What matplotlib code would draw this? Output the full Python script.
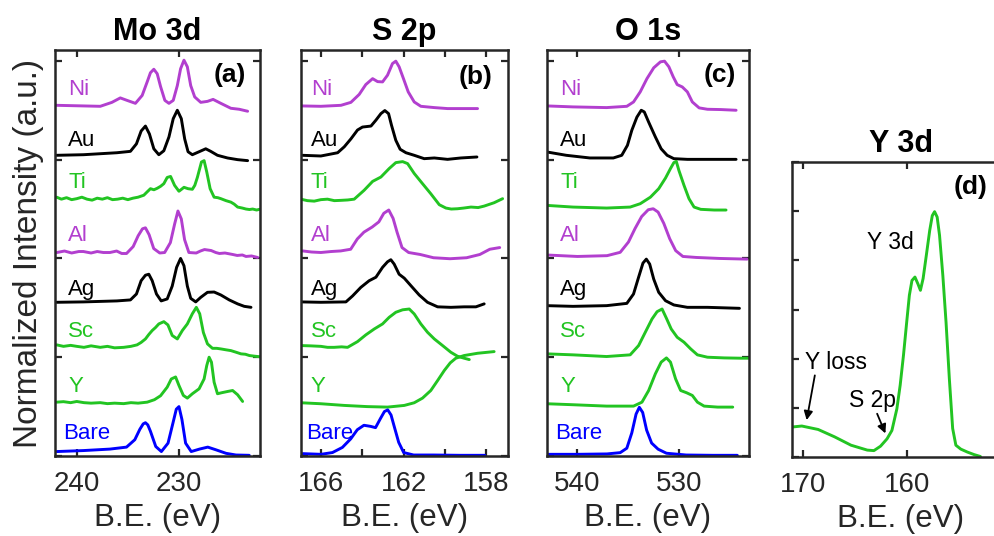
import matplotlib
matplotlib.use("Agg")
import matplotlib.pyplot as plt
from matplotlib.transforms import blended_transform_factory

plt.rcParams['font.family'] = ['Liberation Sans', 'DejaVu Sans']

# ---------------- data ----------------
samples = ["Ni", "Au", "Ti", "Al", "Ag", "Sc", "Y", "Bare"]
PURPLE, BLACK, GREEN, BLUE = "#B23FCF", "#000000", "#22C422", "#0000FF"
sample_colors = [PURPLE, BLACK, GREEN, PURPLE, BLACK, GREEN, GREEN, BLUE]
label_y = [3.71, 3.19, 2.77, 2.23, 1.69, 1.26, 0.70, 0.23]

# (a) Mo 3d
mo_ni_x = [241.97, 237.7, 236.56, 235.74, 235.08, 234.26, 233.6, 233.1, 232.79, 232.46, 232.13, 231.8, 231.38, 230.98, 230.56, 230.16, 229.84, 229.51, 229.18, 228.85, 228.46, 227.87, 227.21, 226.66, 225.9, 224.92, 224.1, 223.28]
mo_ni_y = [3.55, 3.54, 3.58, 3.625, 3.60, 3.57, 3.65, 3.79, 3.88, 3.915, 3.87, 3.74, 3.60, 3.57, 3.60, 3.75, 3.92, 4.007, 3.94, 3.75, 3.635, 3.58, 3.59, 3.61, 3.57, 3.52, 3.51, 3.49]
mo_au_x = [241.97, 239.34, 236.07, 234.75, 234.16, 233.7, 233.28, 232.89, 232.46, 231.97, 231.48, 230.98, 230.56, 230.16, 229.77, 229.44, 229.11, 228.69, 228.03, 227.38, 226.89, 226.23, 225.25, 224.26, 223.28]
mo_au_y = [3.044, 3.05, 3.07, 3.084, 3.16, 3.29, 3.34, 3.26, 3.11, 3.05, 3.09, 3.23, 3.415, 3.50, 3.415, 3.21, 3.08, 3.05, 3.08, 3.11, 3.084, 3.044, 3.017, 3.0, 2.99]
mo_ti_x = [241.97, 241.5, 241.0, 240.5, 240.0, 239.5, 239.0, 238.5, 238.0, 237.5, 237.0, 236.5, 236.0, 235.5, 235.0, 234.5, 234.0, 233.44, 233.1, 232.79, 232.45, 232.13, 231.8, 231.48, 231.15, 230.82, 230.43, 230.0, 229.75, 229.51, 229.11, 228.69, 228.45, 228.2, 227.8, 227.54, 227.28, 226.95, 226.56, 226.2, 225.9, 225.4, 224.92, 224.6, 224.26, 223.8, 223.44, 223.1, 222.79, 222.4, 222.13]
mo_ti_y = [2.62, 2.60, 2.615, 2.595, 2.605, 2.62, 2.60, 2.59, 2.61, 2.60, 2.615, 2.595, 2.60, 2.61, 2.595, 2.61, 2.62, 2.64, 2.675, 2.706, 2.695, 2.71, 2.73, 2.757, 2.82, 2.83, 2.74, 2.68, 2.70, 2.72, 2.706, 2.70, 2.74, 2.82, 2.976, 2.99, 2.875, 2.706, 2.62, 2.615, 2.605, 2.585, 2.57, 2.55, 2.52, 2.51, 2.50, 2.495, 2.50, 2.49, 2.497]
mo_al_x = [241.95, 241.2, 240.5, 239.8, 239.35, 238.6, 238.0, 237.4, 236.75, 236.1, 235.6, 235.13, 234.48, 233.99, 233.57, 233.28, 232.92, 232.47, 231.88, 231.4, 230.84, 230.42, 230.1, 229.77, 229.45, 229.03, 228.31, 227.9, 227.5, 226.85, 226.4, 226.04, 225.5, 224.74, 224.3, 223.8, 223.44, 222.9, 222.3]
mo_al_y = [2.06, 2.075, 2.055, 2.07, 2.07, 2.055, 2.07, 2.06, 2.06, 2.075, 2.05, 2.05, 2.12, 2.23, 2.30, 2.31, 2.24, 2.10, 2.055, 2.06, 2.16, 2.35, 2.48, 2.40, 2.19, 2.06, 2.055, 2.075, 2.09, 2.08, 2.06, 2.05, 2.055, 2.04, 2.03, 2.035, 2.02, 2.025, 2.01]
mo_ag_x = [241.97, 239.34, 236.07, 234.75, 234.16, 233.7, 233.28, 232.95, 232.62, 232.2, 231.74, 231.15, 230.66, 230.23, 229.84, 229.51, 229.18, 228.85, 228.36, 227.87, 227.21, 226.56, 225.9, 225.08, 224.26, 223.61, 222.95]
mo_ag_y = [1.556, 1.56, 1.57, 1.58, 1.64, 1.775, 1.83, 1.84, 1.775, 1.64, 1.57, 1.59, 1.72, 1.91, 2.0, 1.926, 1.72, 1.596, 1.56, 1.606, 1.657, 1.66, 1.63, 1.58, 1.54, 1.515, 1.505]
mo_sc_x = [241.97, 241.3, 240.6, 240.0, 239.3, 238.6, 237.7, 237.0, 236.3, 235.41, 234.7, 234.1, 233.7, 233.28, 232.95, 232.62, 232.3, 231.97, 231.48, 231.08, 230.66, 230.16, 229.67, 229.18, 228.69, 228.3, 227.97, 227.61, 227.21, 226.72, 226.3, 225.9, 225.4, 224.92, 224.4, 223.93, 223.5, 223.11, 222.56, 222.1]
mo_sc_y = [1.125, 1.11, 1.12, 1.11, 1.10, 1.115, 1.10, 1.11, 1.095, 1.10, 1.11, 1.125, 1.15, 1.185, 1.23, 1.27, 1.30, 1.337, 1.36, 1.327, 1.22, 1.185, 1.27, 1.337, 1.44, 1.505, 1.44, 1.25, 1.135, 1.09, 1.09, 1.084, 1.075, 1.067, 1.05, 1.034, 1.03, 1.017, 1.01, 1.005]
mo_y_x = [241.97, 241.3, 240.6, 240.0, 239.3, 238.6, 237.7, 237.0, 236.3, 235.41, 234.7, 234.0, 233.11, 232.4, 231.8, 231.15, 230.75, 230.33, 230.0, 229.57, 229.18, 228.69, 228.03, 227.54, 227.28, 227.05, 226.82, 226.56, 226.23, 225.84, 225.25, 224.75, 224.26, 223.77]
mo_y_y = [0.545, 0.55, 0.54, 0.552, 0.54, 0.535, 0.54, 0.53, 0.535, 0.53, 0.54, 0.535, 0.545, 0.57, 0.61, 0.697, 0.78, 0.80, 0.714, 0.613, 0.586, 0.63, 0.68, 0.78, 0.916, 1.0, 0.95, 0.747, 0.63, 0.64, 0.653, 0.663, 0.62, 0.552]
mo_bare_x = [241.95, 239.35, 236.75, 235.13, 234.32, 233.83, 233.5, 233.28, 233.05, 232.79, 232.27, 231.72, 231.07, 230.58, 230.26, 230.0, 229.71, 229.35, 228.8, 227.99, 227.18, 226.36, 225.39, 224.42, 223.12]
mo_bare_y = [0.045, 0.055, 0.07, 0.09, 0.165, 0.27, 0.325, 0.337, 0.315, 0.25, 0.096, 0.045, 0.13, 0.337, 0.474, 0.50, 0.37, 0.13, 0.045, 0.07, 0.09, 0.062, 0.027, 0.01, 0.007]

# (b) S 2p
s_ni_x = [166.97, 166.0, 165.03, 164.55, 164.15, 163.83, 163.5, 163.26, 163.02, 162.78, 162.54, 162.38, 162.22, 162.01, 161.78, 161.49, 161.17, 160.52, 159.88, 159.24, 158.43]
s_ni_y = [3.544, 3.54, 3.55, 3.58, 3.66, 3.76, 3.82, 3.79, 3.787, 3.855, 3.973, 3.997, 3.94, 3.82, 3.686, 3.584, 3.54, 3.527, 3.517, 3.517, 3.517]
s_au_x = [166.89, 166.0, 165.19, 164.87, 164.55, 164.23, 163.99, 163.58, 163.34, 163.1, 162.91, 162.73, 162.59, 162.38, 162.17, 161.89, 161.49, 161.01, 160.52, 159.88, 159.24, 158.46]
s_au_y = [3.044, 3.037, 3.07, 3.13, 3.21, 3.30, 3.33, 3.34, 3.40, 3.466, 3.497, 3.466, 3.35, 3.196, 3.105, 3.07, 3.044, 3.01, 3.017, 3.003, 3.017, 3.027]
s_ti_x = [166.97, 166.65, 166.32, 166.0, 165.68, 165.35, 165.03, 164.7, 164.39, 163.91, 163.5, 163.1, 162.7, 162.38, 162.05, 161.81, 161.49, 161.09, 160.69, 160.28, 159.96, 159.7, 159.4, 159.1, 158.75, 158.4, 158.11, 157.63, 157.22]
s_ti_y = [2.60, 2.585, 2.58, 2.595, 2.60, 2.585, 2.588, 2.592, 2.60, 2.69, 2.78, 2.824, 2.91, 2.97, 2.98, 2.96, 2.86, 2.757, 2.655, 2.544, 2.51, 2.50, 2.503, 2.51, 2.52, 2.515, 2.53, 2.564, 2.605]
s_al_x = [166.88, 166.45, 166.0, 165.5, 165.04, 164.56, 164.24, 163.92, 163.52, 163.2, 162.96, 162.72, 162.51, 162.32, 162.08, 161.76, 161.2, 160.56, 159.76, 158.96, 158.32, 157.84, 157.36]
s_al_y = [2.076, 2.065, 2.06, 2.07, 2.076, 2.093, 2.197, 2.266, 2.318, 2.37, 2.457, 2.49, 2.405, 2.266, 2.11, 2.06, 2.04, 2.007, 1.997, 2.007, 2.04, 2.093, 2.11]
s_ag_x = [166.97, 166.0, 164.79, 164.47, 164.07, 163.67, 163.34, 163.02, 162.78, 162.62, 162.46, 162.22, 161.97, 161.65, 161.25, 160.85, 160.36, 159.72, 159.08, 158.51, 158.11]
s_ag_y = [1.56, 1.556, 1.56, 1.62, 1.707, 1.774, 1.81, 1.91, 1.966, 1.987, 1.943, 1.84, 1.80, 1.724, 1.63, 1.556, 1.51, 1.505, 1.51, 1.51, 1.54]
s_sc_x = [166.97, 166.5, 166.0, 165.68, 165.36, 165.0, 164.71, 164.23, 163.83, 163.42, 163.02, 162.7, 162.38, 162.05, 161.73, 161.49, 161.17, 160.85, 160.52, 160.12, 159.72, 159.4, 159.08, 158.83]
s_sc_y = [1.118, 1.115, 1.11, 1.10, 1.10, 1.105, 1.10, 1.158, 1.226, 1.286, 1.337, 1.404, 1.455, 1.48, 1.488, 1.438, 1.337, 1.253, 1.185, 1.118, 1.05, 1.01, 0.99, 0.976]
s_y_x = [166.97, 166.0, 164.87, 163.75, 162.78, 161.97, 161.49, 161.09, 160.69, 160.36, 160.04, 159.75, 159.48, 159.08, 158.43, 157.63]
s_y_y = [0.539, 0.529, 0.512, 0.50, 0.495, 0.512, 0.539, 0.586, 0.663, 0.764, 0.865, 0.943, 0.99, 1.017, 1.04, 1.057]
s_bare_x = [166.88, 166.0, 165.44, 164.96, 164.56, 164.24, 163.92, 163.6, 163.36, 163.12, 162.93, 162.77, 162.61, 162.45, 162.24, 162.0, 161.52, 160.56, 159.28, 158.08]
s_bare_y = [0.024, 0.017, 0.035, 0.087, 0.173, 0.266, 0.311, 0.30, 0.287, 0.38, 0.45, 0.467, 0.415, 0.294, 0.138, 0.035, 0.01, 0.01, 0.007, 0.007]

# (c) O 1s
o_ni_x = [543.01, 540.43, 537.12, 535.13, 534.47, 533.81, 533.15, 532.48, 531.82, 531.42, 530.99, 530.56, 530.17, 529.67, 529.17, 528.68, 528.01, 527.19, 525.86, 524.37]
o_ni_y = [3.544, 3.534, 3.527, 3.54, 3.584, 3.686, 3.82, 3.93, 3.99, 3.997, 3.94, 3.838, 3.76, 3.736, 3.686, 3.584, 3.524, 3.51, 3.507, 3.50]
o_au_x = [543.01, 541.09, 538.77, 536.46, 535.63, 535.07, 534.64, 534.14, 533.71, 533.41, 532.98, 532.32, 531.75, 531.16, 530.5, 529.17, 527.19, 524.37]
o_au_y = [3.078, 3.044, 3.017, 3.017, 3.044, 3.145, 3.297, 3.43, 3.50, 3.483, 3.38, 3.23, 3.11, 3.044, 3.01, 3.003, 3.003, 3.003]
o_ti_x = [543.01, 540.43, 537.12, 534.8, 533.81, 532.81, 531.99, 531.32, 530.83, 530.5, 530.26, 530.0, 529.5, 529.01, 528.51, 527.85, 526.52, 525.36]
o_ti_y = [2.537, 2.52, 2.51, 2.52, 2.554, 2.62, 2.706, 2.814, 2.91, 2.97, 2.983, 2.89, 2.74, 2.605, 2.52, 2.497, 2.49, 2.49]
o_al_x = [542.86, 540.0, 537.08, 535.78, 534.97, 534.32, 533.67, 533.02, 532.53, 532.05, 531.49, 530.91, 530.32, 529.61, 528.31, 526.04, 523.28]
o_al_y = [2.034, 2.02, 2.028, 2.062, 2.166, 2.303, 2.424, 2.493, 2.503, 2.469, 2.355, 2.20, 2.079, 2.02, 2.01, 2.0, 1.993]
o_ag_x = [543.01, 540.43, 537.12, 535.13, 534.47, 533.97, 533.54, 533.21, 532.88, 532.48, 531.99, 531.32, 530.5, 529.17, 527.19, 524.04]
o_ag_y = [1.522, 1.515, 1.522, 1.545, 1.64, 1.81, 1.953, 1.993, 1.943, 1.79, 1.657, 1.572, 1.529, 1.505, 1.505, 1.495]
o_sc_x = [543.01, 540.43, 537.12, 534.8, 533.97, 533.31, 532.65, 532.15, 531.66, 531.23, 530.76, 530.17, 529.5, 528.84, 528.18, 527.19, 525.53, 523.87, 523.1]
o_sc_y = [1.034, 1.024, 1.007, 1.024, 1.118, 1.253, 1.387, 1.461, 1.488, 1.394, 1.286, 1.202, 1.152, 1.084, 1.024, 1.0, 0.993, 0.99, 0.99]
o_y_x = [543.01, 540.43, 537.12, 534.47, 533.64, 532.98, 532.32, 531.75, 531.23, 530.83, 530.33, 529.83, 529.24, 528.68, 528.18, 527.52, 526.19, 524.7]
o_y_y = [0.529, 0.519, 0.505, 0.505, 0.545, 0.663, 0.832, 0.95, 0.993, 0.95, 0.781, 0.663, 0.64, 0.613, 0.545, 0.505, 0.495, 0.495]
o_bare_x = [542.86, 540.0, 537.08, 535.78, 535.13, 534.64, 534.22, 533.9, 533.57, 533.18, 532.69, 532.05, 531.23, 529.29, 526.69, 524.25]
o_bare_y = [0.017, 0.017, 0.021, 0.034, 0.079, 0.234, 0.424, 0.493, 0.441, 0.262, 0.131, 0.069, 0.028, 0.01, 0.007, 0.007]

# (d) Y 3d
y3d_x = [171.1, 170.15, 168.57, 166.98, 165.39, 163.81, 163.17, 162.53, 161.9, 161.43, 160.95, 160.63, 160.31, 160.0, 159.74, 159.49, 159.2, 158.91, 158.67, 158.41, 158.1, 157.77, 157.52, 157.3, 157.05, 156.82, 156.5, 156.19, 155.87, 155.55, 155.24, 154.76, 154.12, 153.49, 152.86]
y3d_y = [0.61, 0.63, 0.56, 0.41, 0.24, 0.14, 0.13, 0.22, 0.37, 0.54, 0.98, 1.46, 2.07, 2.74, 3.29, 3.59, 3.66, 3.52, 3.39, 3.63, 4.1, 4.61, 4.91, 4.99, 4.88, 4.51, 3.69, 2.74, 1.59, 0.58, 0.24, 0.16, 0.1, 0.05, 0.01]

mo_curves = [(mo_ni_x, mo_ni_y), (mo_au_x, mo_au_y), (mo_ti_x, mo_ti_y), (mo_al_x, mo_al_y),
             (mo_ag_x, mo_ag_y), (mo_sc_x, mo_sc_y), (mo_y_x, mo_y_y), (mo_bare_x, mo_bare_y)]
s_curves = [(s_ni_x, s_ni_y), (s_au_x, s_au_y), (s_ti_x, s_ti_y), (s_al_x, s_al_y),
            (s_ag_x, s_ag_y), (s_sc_x, s_sc_y), (s_y_x, s_y_y), (s_bare_x, s_bare_y)]
o_curves = [(o_ni_x, o_ni_y), (o_au_x, o_au_y), (o_ti_x, o_ti_y), (o_al_x, o_al_y),
            (o_ag_x, o_ag_y), (o_sc_x, o_sc_y), (o_y_x, o_y_y), (o_bare_x, o_bare_y)]

# ---------------- figure ----------------
W, H = 994, 536
fig = plt.figure(figsize=(W / 100, H / 100), dpi=100)
AX_COL = "#262626"
LW = 2.1


def add_ax(l, r, t, b):
    return fig.add_axes([l / W, 1 - b / H, (r - l) / W, (b - t) / H])


def style(ax, xlim, ylim, xticks, xticklabels, yticks, title, title_pad=7):
    ax.set_xlim(*xlim)
    ax.set_ylim(*ylim)
    ax.set_xticks(xticks)
    ax.set_xticklabels(xticklabels)
    ax.set_yticks(yticks)
    ax.set_yticklabels([])
    ax.tick_params(direction="in", top=True, right=True, length=5, width=1.6,
                   colors=AX_COL, labelsize=20, pad=11)
    for s in ax.spines.values():
        s.set_linewidth(1.8)
        s.set_color(AX_COL)
    ax.set_xlabel("B.E. (eV)", fontsize=22.5, color=AX_COL, labelpad=4)
    ax.set_title(title, fontsize=22, fontweight="bold", pad=title_pad)


def draw_stack(ax, curves, label_x):
    tr = blended_transform_factory(ax.transAxes, ax.transData)
    for (x, y), name, c, ly in zip(curves, samples, sample_colors, label_y):
        ax.plot(x, y, color=c, lw=LW, solid_joinstyle="round", solid_capstyle="round")
        lx = label_x if name != "Bare" else label_x - 0.024
        ax.text(lx, ly, name, transform=tr, color=c, fontsize=16, ha="left", va="center")


ylim_stack = (0, 4.11)
yt = [0, 1, 2, 3, 4]

axa = add_ax(55, 260, 50, 456)
style(axa, (242.13, 222.07), ylim_stack, [240, 230], ["240", "230"], yt, "Mo 3d")
draw_stack(axa, mo_curves, 0.065)
axa.text(223.44, 3.855, "(a)", fontsize=19, fontweight="bold", ha="right", va="center")

axb = add_ax(301, 508, 50, 456)
style(axb, (166.96, 156.96), ylim_stack, [166, 164, 162, 160, 158], ["166", "", "162", "", "158"], yt, "S 2p")
draw_stack(axb, s_curves, 0.048)
axb.text(157.71, 3.84, "(b)", fontsize=19, fontweight="bold", ha="right", va="center")

axc = add_ax(547, 749, 50, 456)
style(axc, (542.99, 523.1), ylim_stack, [540, 530], ["540", "530"], yt, "O 1s")
draw_stack(axc, o_curves, 0.065)
axc.text(524.37, 3.855, "(c)", fontsize=19, fontweight="bold", ha="right", va="center")

axd = add_ax(792, 1010, 162, 457)
style(axd, (171.1, 150.3), (0, 6), [170, 160, 150], ["170", "160", ""], [0, 1, 2, 3, 4, 5, 6], "Y 3d")
axd.plot(y3d_x, y3d_y, color=GREEN, lw=LW, solid_joinstyle="round", solid_capstyle="round")
axd.text(152.2, 5.49, "(d)", fontsize=19, fontweight="bold", ha="right", va="center")
axd.text(161.55, 4.37, "Y 3d", fontsize=16.5, ha="center", va="center")
axd.text(169.84, 1.93, "Y loss", fontsize=16.5, ha="left", va="center")
axd.text(165.55, 1.15, "S 2p", fontsize=16.5, ha="left", va="center")
arrow = dict(arrowstyle="-|>", color="black", lw=1.3, mutation_scale=13, shrinkA=0, shrinkB=0)
axd.annotate("", xy=(169.68, 0.75), xytext=(168.89, 1.66), arrowprops=arrow)
axd.annotate("", xy=(162.06, 0.48), xytext=(162.86, 0.88), arrowprops=arrow)

fig.text(29 / W, 1 - 253 / H, "Normalized Intensity (a.u.)", rotation=90,
         fontsize=24, color=AX_COL, ha="center", va="center")

fig.savefig("out.png", dpi=100)
